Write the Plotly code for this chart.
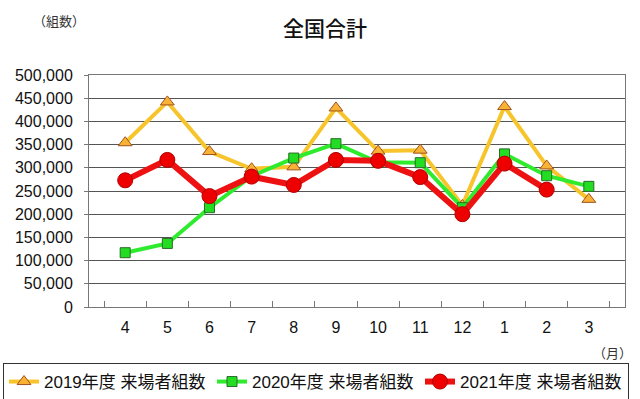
import plotly.graph_objects as go

months = ["4", "5", "6", "7", "8", "9", "10", "11", "12", "1", "2", "3"]
y2019 = [354000, 442000, 335000, 298000, 302000, 429000, 336000, 338000, 219000, 432000, 304000, 232000]
y2020 = [117000, 137000, 214000, 282000, 321000, 352000, 312000, 311000, 214000, 330000, 283000, 260000]
y2021 = [273000, 317000, 239000, 281000, 263000, 317000, 315000, 280000, 200000, 309000, 253000, None]

names = ["2019年度 来場者組数", "2020年度 来場者組数", "2021年度 来場者組数"]
FONT = "Liberation Sans, Arial, Noto Sans CJK JP, sans-serif"

fig = go.Figure()
fig.add_trace(go.Scatter(
    x=months, y=y2019, name=names[0], mode="lines+markers",
    line=dict(color="#F7C52B", width=4),
    marker=dict(symbol="triangle-up", size=12, color="#F9B233",
                line=dict(color="#A0521E", width=1)),
))
fig.add_trace(go.Scatter(
    x=months, y=y2020, name=names[1], mode="lines+markers",
    line=dict(color="#2EEB2E", width=4),
    marker=dict(symbol="square", size=10, color="#22DD22",
                line=dict(color="#2A6A2A", width=1)),
))
fig.add_trace(go.Scatter(
    x=months, y=y2021, name=names[2], mode="lines+markers",
    line=dict(color="#EE1111", width=6),
    marker=dict(symbol="circle", size=15, color="#EE0000",
                line=dict(color="#B00000", width=1)),
))

L, R, T, B = 89, 15, 75, 92
PW, PH = 640 - L - R, 399 - T - B

fig.update_layout(
    width=640, height=399,
    margin=dict(l=L, r=R, t=T, b=B, autoexpand=False),
    paper_bgcolor="white", plot_bgcolor="white",
    font=dict(family=FONT, size=16, color="#111111"),
    showlegend=True,
    legend=dict(
        orientation="h", xref="paper", yref="paper",
        x=(3 - L) / PW, xanchor="left", y=-(363 - (T + PH)) / PH, yanchor="top",
        bordercolor="#333333", borderwidth=1,
        font=dict(family=FONT, size=17),
        tracegroupgap=0, itemwidth=30, entrywidth=163,
    ),
)
fig.add_annotation(text="全国合計", xref="paper", yref="paper",
                   x=(325 - L) / PW, y=1 + (T - 27) / PH,
                   showarrow=False,
                   font=dict(size=21, family="Noto Sans CJK JP", color="#111111", weight=500),
                   xanchor="center", yanchor="middle")
fig.add_annotation(text="（組数）", xref="paper", yref="paper",
                   x=(59 - L) / PW, y=1 + (T - 20) / PH,
                   showarrow=False, font=dict(size=13, family="Noto Sans CJK JP", color="#333333"),
                   xanchor="center", yanchor="middle")
fig.add_annotation(text="（月）", xref="paper", yref="paper",
                   x=(634 - L) / PW, y=-(352 - (T + PH)) / PH,
                   showarrow=False, font=dict(size=13, family="Noto Sans CJK JP", color="#333333"),
                   xanchor="right", yanchor="middle")

fig.update_xaxes(
    type="category", showgrid=False, showline=True, mirror=True,
    linecolor="#777777", linewidth=1,
    ticks="inside", tickson="boundaries", ticklen=6, tickcolor="#777777",
    tickfont=dict(size=16), ticklabelstandoff=6,
)
fig.update_yaxes(
    range=[0, 500000], dtick=50000, tickformat=",",
    showgrid=True, gridcolor="#555555", gridwidth=1,
    showline=True, mirror=True, linecolor="#777777", linewidth=1,
    ticks="outside", ticklen=4, tickcolor="#777777",
    tickfont=dict(size=16), zeroline=False, ticklabelstandoff=8,
)

fig.write_html("out.html", config={"displayModeBar": False},
               post_script="document.body.style.margin='0';")
